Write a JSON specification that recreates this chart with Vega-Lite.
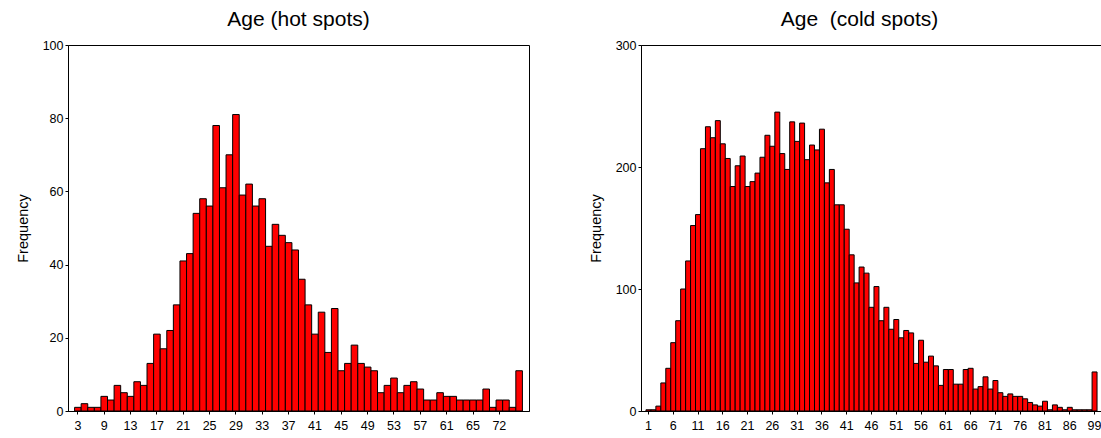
{
  "$schema": "https://vega.github.io/schema/vega-lite/v6.json",
  "padding": {"left": 14, "top": 8, "right": 0, "bottom": 0},
  "background": "white",
  "spacing": 57,
  "config": {
    "font": "Liberation Sans",
    "view": {"stroke": "black", "strokeWidth": 1},
    "axis": {
      "domainColor": "black",
      "tickColor": "black",
      "labelColor": "black",
      "titleColor": "black",
      "labelFont": "Liberation Sans",
      "titleFont": "Liberation Sans",
      "labelFontSize": 12.5,
      "titleFontSize": 14.5,
      "titleFontWeight": "normal",
      "grid": false,
      "tickSize": 3,
      "labelPadding": 2
    },
    "title": {"font": "Liberation Sans", "fontSize": 21, "fontWeight": "normal", "color": "black", "anchor": "middle"}
  },
  "datasets": {
    "hot": [
      {"age": 3, "freq": 1}, {"age": 4, "freq": 2}, {"age": 6, "freq": 1}, {"age": 8, "freq": 1},
      {"age": 9, "freq": 4}, {"age": 10, "freq": 3}, {"age": 11, "freq": 7}, {"age": 12, "freq": 5},
      {"age": 13, "freq": 4}, {"age": 14, "freq": 8}, {"age": 15, "freq": 7}, {"age": 16, "freq": 13},
      {"age": 17, "freq": 21}, {"age": 18, "freq": 17}, {"age": 19, "freq": 22}, {"age": 20, "freq": 29},
      {"age": 21, "freq": 41}, {"age": 22, "freq": 43}, {"age": 23, "freq": 54}, {"age": 24, "freq": 58},
      {"age": 25, "freq": 56}, {"age": 26, "freq": 78}, {"age": 27, "freq": 61}, {"age": 28, "freq": 70},
      {"age": 29, "freq": 81}, {"age": 30, "freq": 59}, {"age": 31, "freq": 62}, {"age": 32, "freq": 56},
      {"age": 33, "freq": 58}, {"age": 34, "freq": 45}, {"age": 35, "freq": 51}, {"age": 36, "freq": 48},
      {"age": 37, "freq": 46}, {"age": 38, "freq": 44}, {"age": 39, "freq": 36}, {"age": 40, "freq": 29},
      {"age": 41, "freq": 21}, {"age": 42, "freq": 27}, {"age": 43, "freq": 16}, {"age": 44, "freq": 28},
      {"age": 45, "freq": 11}, {"age": 46, "freq": 13}, {"age": 47, "freq": 18}, {"age": 48, "freq": 13},
      {"age": 49, "freq": 12}, {"age": 50, "freq": 11}, {"age": 51, "freq": 5}, {"age": 52, "freq": 7},
      {"age": 53, "freq": 9}, {"age": 54, "freq": 5}, {"age": 55, "freq": 7}, {"age": 56, "freq": 8},
      {"age": 57, "freq": 6}, {"age": 58, "freq": 3}, {"age": 59, "freq": 3}, {"age": 60, "freq": 5},
      {"age": 61, "freq": 4}, {"age": 62, "freq": 4}, {"age": 63, "freq": 3}, {"age": 64, "freq": 3},
      {"age": 65, "freq": 3}, {"age": 66, "freq": 3}, {"age": 67, "freq": 6}, {"age": 69, "freq": 1},
      {"age": 72, "freq": 3}, {"age": 73, "freq": 3}, {"age": 74, "freq": 1}, {"age": 77, "freq": 11}
    ],
    "cold": [
      {"age": 1, "freq": 1}, {"age": 2, "freq": 1}, {"age": 3, "freq": 4}, {"age": 4, "freq": 23},
      {"age": 5, "freq": 35}, {"age": 6, "freq": 56}, {"age": 7, "freq": 74}, {"age": 8, "freq": 100},
      {"age": 9, "freq": 123}, {"age": 10, "freq": 152}, {"age": 11, "freq": 161}, {"age": 12, "freq": 215},
      {"age": 13, "freq": 233}, {"age": 14, "freq": 224}, {"age": 15, "freq": 238}, {"age": 16, "freq": 219},
      {"age": 17, "freq": 207}, {"age": 18, "freq": 184}, {"age": 19, "freq": 201}, {"age": 20, "freq": 209},
      {"age": 21, "freq": 184}, {"age": 22, "freq": 188}, {"age": 23, "freq": 195}, {"age": 24, "freq": 208},
      {"age": 25, "freq": 226}, {"age": 26, "freq": 217}, {"age": 27, "freq": 245}, {"age": 28, "freq": 211},
      {"age": 29, "freq": 198}, {"age": 30, "freq": 237}, {"age": 31, "freq": 221}, {"age": 32, "freq": 236},
      {"age": 33, "freq": 206}, {"age": 34, "freq": 218}, {"age": 35, "freq": 214}, {"age": 36, "freq": 231},
      {"age": 37, "freq": 187}, {"age": 38, "freq": 198}, {"age": 39, "freq": 169}, {"age": 40, "freq": 169},
      {"age": 41, "freq": 149}, {"age": 42, "freq": 128}, {"age": 43, "freq": 105}, {"age": 44, "freq": 118},
      {"age": 45, "freq": 113}, {"age": 46, "freq": 85}, {"age": 47, "freq": 102}, {"age": 48, "freq": 74},
      {"age": 49, "freq": 85}, {"age": 50, "freq": 67}, {"age": 51, "freq": 75}, {"age": 52, "freq": 60},
      {"age": 53, "freq": 66}, {"age": 54, "freq": 64}, {"age": 55, "freq": 39}, {"age": 56, "freq": 58},
      {"age": 57, "freq": 40}, {"age": 58, "freq": 45}, {"age": 59, "freq": 37}, {"age": 60, "freq": 21},
      {"age": 61, "freq": 34}, {"age": 62, "freq": 34}, {"age": 63, "freq": 22}, {"age": 64, "freq": 22},
      {"age": 65, "freq": 34}, {"age": 66, "freq": 35}, {"age": 67, "freq": 18}, {"age": 68, "freq": 20},
      {"age": 69, "freq": 28}, {"age": 70, "freq": 18}, {"age": 71, "freq": 25}, {"age": 72, "freq": 15},
      {"age": 73, "freq": 12}, {"age": 74, "freq": 14}, {"age": 75, "freq": 12}, {"age": 76, "freq": 12},
      {"age": 77, "freq": 10}, {"age": 78, "freq": 7}, {"age": 79, "freq": 5}, {"age": 80, "freq": 4},
      {"age": 81, "freq": 8}, {"age": 82, "freq": 1}, {"age": 83, "freq": 5}, {"age": 84, "freq": 3},
      {"age": 85, "freq": 1}, {"age": 86, "freq": 3}, {"age": 87, "freq": 1}, {"age": 88, "freq": 1},
      {"age": 89, "freq": 1}, {"age": 92, "freq": 1}, {"age": 99, "freq": 32}
    ]
  },
  "hconcat": [
    {
      "width": 461,
      "height": 366,
      "title": {"text": "Age (hot spots)", "offset": 9},
      "data": {"name": "hot"},
      "mark": {"type": "bar", "fill": "#ff0000", "stroke": "black", "strokeWidth": 1},
      "encoding": {
        "x": {
          "field": "age", "type": "ordinal", "title": null,
          "scale": {"paddingInner": 0, "paddingOuter": 1.74},
          "axis": {"values": [3, 9, 13, 17, 21, 25, 29, 33, 37, 41, 45, 49, 53, 57, 61, 65, 72], "labelAngle": 0, "labelPadding": 5}
        },
        "y": {
          "field": "freq", "type": "quantitative", "title": "Frequency",
          "scale": {"domain": [0, 100], "nice": false},
          "axis": {"values": [0, 20, 40, 60, 80, 100], "titlePadding": 12}
        }
      }
    },
    {
      "width": 461,
      "height": 366,
      "title": {"text": "Age\u00a0 (cold spots)", "offset": 9, "dx": -12},
      "data": {"name": "cold"},
      "mark": {"type": "bar", "fill": "#ff0000", "stroke": "black", "strokeWidth": 1},
      "encoding": {
        "x": {
          "field": "age", "type": "ordinal", "title": null,
          "scale": {"paddingInner": 0, "paddingOuter": 2.2},
          "axis": {"values": [1, 6, 11, 16, 21, 26, 31, 36, 41, 46, 51, 56, 61, 66, 71, 76, 81, 86, 99], "labelAngle": 0, "labelPadding": 5}
        },
        "y": {
          "field": "freq", "type": "quantitative", "title": "Frequency",
          "scale": {"domain": [0, 300], "nice": false},
          "axis": {"values": [0, 100, 200, 300], "titlePadding": 12}
        }
      }
    }
  ]
}
